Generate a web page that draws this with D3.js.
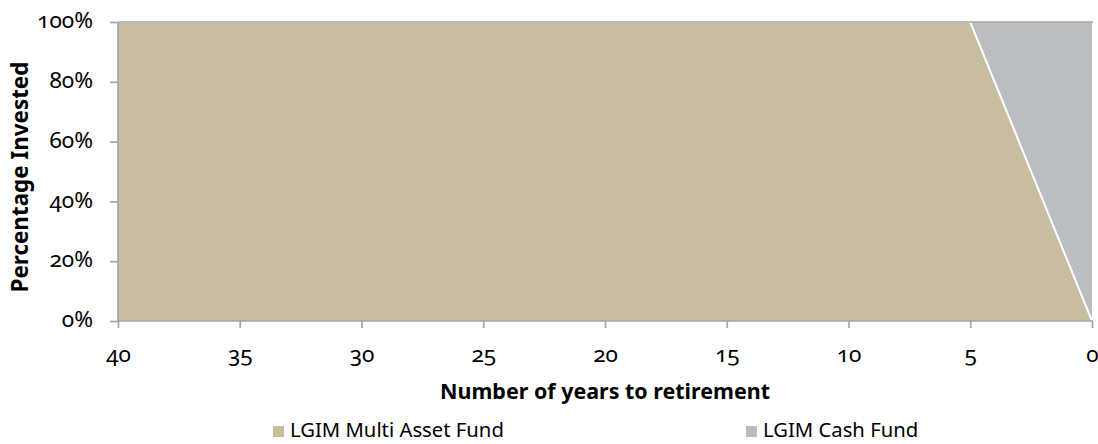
<!DOCTYPE html>
<html><head><meta charset="utf-8">
<script src="https://cdn.jsdelivr.net/npm/d3@7"></script>
<style>
body{margin:0;background:#fff;}
svg text{font-family:"Noto Sans","Open Sans",sans-serif;font-variant-numeric:oldstyle-nums;font-feature-settings:"onum" 1;fill:#000;}
</style></head><body>
<svg id="c" width="1098" height="444"></svg>
<script>
const years = [40,35,30,25,20,15,10,5,4,3,2,1,0];
const multiAsset = [100,100,100,100,100,100,100,100,80,60,40,20,0];
const cash = [0,0,0,0,0,0,0,0,20,40,60,80,100];
const xTicks = [40,35,30,25,20,15,10,5,0];
const yTicks = [0,20,40,60,80,100];
const seriesNames = ["LGIM Multi Asset Fund","LGIM Cash Fund"];
const colors = ["#C8BDA1","#BBBEC1"];
const xTitle = "Number of years to retirement";
const yTitle = "Percentage Invested";

const svg = d3.select("#c");
const m = {l:118, r:1092, t:22, b:321};
const x = d3.scaleLinear().domain([40,0]).range([m.l,m.r]);
const y = d3.scaleLinear().domain([0,100]).range([m.b,m.t]);

function fit(sel, w){
  const base = 20;
  sel.style("font-size", base+"px");
  const cur = sel.node().getComputedTextLength();
  const fs = base * w / cur;
  sel.style("font-size", fs.toFixed(2)+"px");
  return fs;
}

const rows = years.map((yr,i)=>({yr, a:multiAsset[i], c:cash[i]}));
const stack = d3.stack().keys(["a","c"])(rows);

const area = d3.area().x(d=>x(d.data.yr)).y0(d=>y(d[0])).y1(d=>y(d[1]));
svg.selectAll("path.area").data(stack).join("path")
  .attr("class","area").attr("d",area).attr("fill",(d,i)=>colors[i]);

const line = d3.line().x(d=>x(d.data.yr)).y(d=>y(d[1]));
svg.append("path").attr("d",line(stack[0])).attr("fill","none")
  .attr("stroke","#fff").attr("stroke-width",2);

svg.append("line").attr("x1",m.l).attr("x2",m.r+1).attr("y1",y(100)).attr("y2",y(100))
  .attr("stroke","#A6A6A6").attr("stroke-width",1.7);

const gy = svg.append("g").attr("transform",`translate(${m.l},0)`)
  .call(d3.axisLeft(y).tickValues(yTicks).tickFormat(d=>d+"%").tickSize(8).tickPadding(17));
const gx = svg.append("g").attr("transform",`translate(0,${m.b})`)
  .call(d3.axisBottom(x).tickValues(xTicks).tickFormat(d=>d).tickSize(7).tickPadding(20));
[gx,gy].forEach(g=>{
  g.attr("font-family",null);
  g.selectAll("path,line").attr("stroke","#A6A6A6").attr("stroke-width",1.7);
});
gx.select(".domain").attr("d",`M${m.l},0H${m.r+1}`);
gy.select(".domain").attr("d",`M0,${m.t}V${m.b}`);

const fsY = fit(gy.selectAll("text").filter(d=>d===100), 56);
gy.selectAll("text").style("font-size",fsY+"px").attr("dy","0.25em");
gx.selectAll("text").style("font-size",fsY+"px").attr("dy",0).attr("y",41);

const xt = svg.append("text").attr("x",(m.l+m.r)/2).attr("y",399).attr("text-anchor","middle")
  .style("font-weight","bold").text(xTitle);
fit(xt,330);
const yt = svg.append("text").attr("transform","translate(28,177) rotate(-90)").attr("text-anchor","middle")
  .style("font-weight","bold").text(yTitle);
fit(yt,231);

const legX = [273,746];
const legText = [];
seriesNames.forEach((n,i)=>{
  svg.append("rect").attr("x",legX[i]).attr("y",426).attr("width",11).attr("height",11).attr("fill",colors[i]);
  legText.push(svg.append("text").attr("x",legX[i]+17).attr("y",437).text(n));
});
const fsL = fit(legText[0], 214);
legText[1].style("font-size", fsL+"px");
</script></body></html>
